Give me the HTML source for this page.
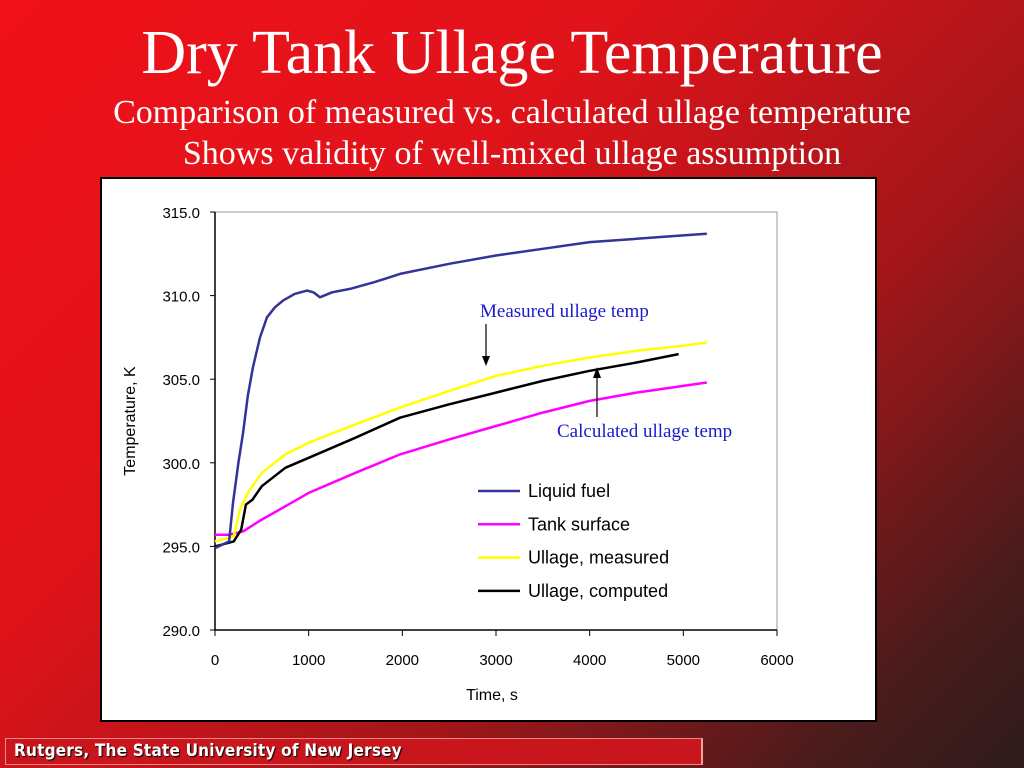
<!DOCTYPE html>
<html><head><meta charset="utf-8">
<style>
html,body{margin:0;padding:0;width:1024px;height:768px;overflow:hidden}
body{background:linear-gradient(135deg,#f01019 0%,#e0131a 35%,#a3161a 65%,#4a1b1b 88%,#2e1c1c 100%);position:relative;font-family:"Liberation Serif",serif;color:#fff}
.t{position:absolute;left:0;width:1024px;text-align:center;white-space:nowrap}
#footer{position:absolute;left:5px;top:738px;width:698px;height:27px;background:#c8161c;border:1px solid #e88;border-right:2px solid #f4a0a0;box-sizing:border-box}
#footer span{position:absolute;left:8px;top:2px;font-family:"DejaVu Sans Condensed","Liberation Sans",sans-serif;font-weight:bold;font-size:17px;letter-spacing:0.2px;color:#fff;text-shadow:1px 1px 1px #000}
</style></head><body>
<div class="t" style="top:18px;font-size:62px">Dry Tank Ullage Temperature</div>
<div class="t" style="top:94px;font-size:34px">Comparison of measured vs. calculated ullage temperature</div>
<div class="t" style="top:135px;font-size:34px">Shows validity of well-mixed ullage assumption</div>
<svg id="chart" width="1024" height="768" style="position:absolute;left:0;top:0"></svg>
<div id="footer"><span>Rutgers, The State University of New Jersey</span></div>
<script>
const xTicks=[0,1000,2000,3000,4000,5000,6000];
const yTicks=[290,295,300,305,310,315];
const liquidT=[0,150,192,250,300,350,405,480,555,640,726,850,982,1050,1120,1250,1440,1700,1975,2500,3000,3500,4000,4500,5000,5250];
const liquidV=[294.9,295.3,297.6,300.0,301.8,304.0,305.7,307.5,308.7,309.3,309.7,310.1,310.3,310.2,309.9,310.2,310.4,310.8,311.3,311.9,312.4,312.8,313.2,313.4,313.6,313.7];
const surfT=[0,150,300,500,750,1000,1500,1975,2500,3000,3500,4000,4500,5000,5250];
const surfV=[295.7,295.7,295.9,296.6,297.4,298.2,299.4,300.5,301.4,302.2,303.0,303.7,304.2,304.6,304.8];
const measT=[0,200,267,350,500,750,1000,1500,1975,2500,3000,3500,4000,4500,5000,5250];
const measV=[295.3,295.6,297.2,298.2,299.4,300.5,301.2,302.3,303.3,304.3,305.2,305.8,306.3,306.7,307.0,307.2];
const compT=[0,200,280,330,400,500,750,1000,1500,1975,2500,3000,3500,4000,4500,4950];
const compV=[295.0,295.3,296.0,297.5,297.8,298.6,299.7,300.3,301.5,302.7,303.5,304.2,304.9,305.5,306.0,306.5];
const NS="http://www.w3.org/2000/svg";
const svg=document.getElementById('chart');
const X=t=>215+t*(777-215)/6000;
const Y=v=>630-(v-290)*(630-212)/25;
function el(tag,a,p){const e=document.createElementNS(NS,tag);for(const k in a)e.setAttribute(k,a[k]);(p||svg).appendChild(e);return e;}
const frame=el('rect',{x:101,y:178,width:775,height:543,fill:'#fff',stroke:'#000','stroke-width':2});


const grid=el('path',{d:`M215 212H777V630`,fill:'none',stroke:'#999','stroke-width':1});


const ax=el('path',{d:`M215 212V630H777`,fill:'none',stroke:'#000','stroke-width':1.5});


yTicks.forEach(v=>{
  el('line',{x1:210,x2:215,y1:Y(v),y2:Y(v),stroke:'#000'});
  const t=el('text',{x:200,y:Y(v)+6,'text-anchor':'end','font-family':'Liberation Sans, sans-serif','font-size':15,fill:'#000'});
  t.textContent=v.toFixed(1);
  
  
});
xTicks.forEach(v=>{
  el('line',{x1:X(v),x2:X(v),y1:630,y2:636,stroke:'#000'});
  const t=el('text',{x:X(v),y:665,'text-anchor':'middle','font-family':'Liberation Sans, sans-serif','font-size':15,fill:'#000'});
  t.textContent=v;
  
  
});
const xt=el('text',{x:492,y:700,'text-anchor':'middle','font-family':'Liberation Sans, sans-serif','font-size':16,fill:'#000'});
xt.textContent='Time, s';


const yt=el('text',{x:0,y:0,transform:'translate(135,421) rotate(-90)','text-anchor':'middle','font-family':'Liberation Sans, sans-serif','font-size':16,fill:'#000'});
yt.textContent='Temperature, K';


function series(ts,vs,color,name){
  const d=ts.map((t,i)=>(i?'L':'M')+X(t).toFixed(1)+' '+Y(vs[i]).toFixed(1)).join('');
  const p=el('path',{d:d,fill:'none',stroke:color,'stroke-width':2.5,'stroke-linejoin':'round'});
  
  
}
series(surfT,surfV,'#ff00ff','tank-surface-line');
series(measT,measV,'#ffff00','ullage-measured-line');
series(compT,compV,'#000000','ullage-computed-line');
series(liquidT,liquidV,'#333399','liquid-fuel-line');
const leg=[['Liquid fuel','#333399'],['Tank surface','#ff00ff'],['Ullage, measured','#ffff00'],['Ullage, computed','#000000']];
leg.forEach((l,i)=>{
  const y=491+i*33.3;
  const g=el('g',{});
  
  
  el('line',{x1:478,x2:520,y1:y,y2:y,stroke:l[1],'stroke-width':2.5},g);
  const t=el('text',{x:528,y:y+6,'font-family':'Liberation Sans, sans-serif','font-size':18,fill:'#000'},g);
  t.textContent=l[0];
});
const a1=el('text',{x:480,y:317,'font-family':'Liberation Serif, serif','font-size':19,fill:'#1a1acc'});
a1.textContent='Measured ullage temp';


const a2=el('text',{x:557,y:437,'font-family':'Liberation Serif, serif','font-size':19,fill:'#1a1acc'});
a2.textContent='Calculated ullage temp';


el('line',{x1:486,x2:486,y1:324,y2:360,stroke:'#000','stroke-width':1.2});
el('path',{d:'M482 356L486 366L490 356Z',fill:'#000'});
el('line',{x1:597,x2:597,y1:417,y2:374,stroke:'#000','stroke-width':1.2});
el('path',{d:'M593 378L597 367L601 378Z',fill:'#000'});
</script>
</body></html>
